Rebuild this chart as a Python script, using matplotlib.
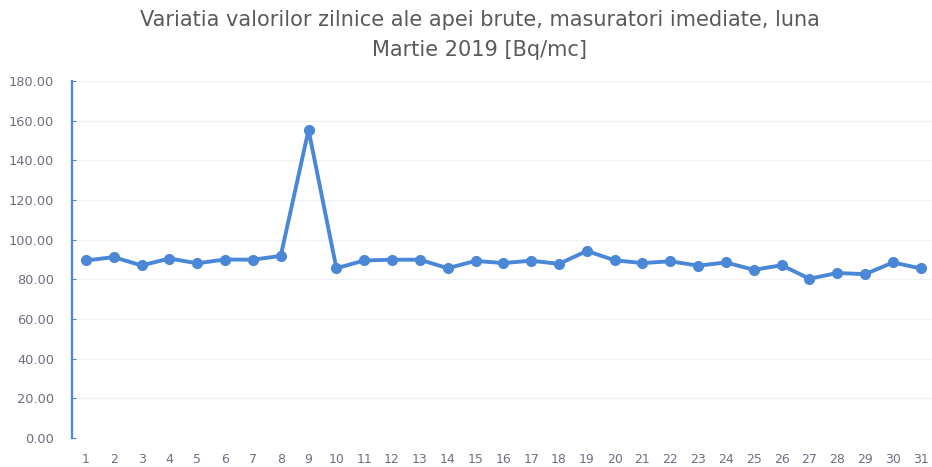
import matplotlib
matplotlib.use('Agg')
from matplotlib import pyplot as plt

# Daily values, March 2019 [Bq/mc]
days = list(range(1, 32))
values = [89.5, 91.2, 87.0, 90.5, 88.1, 90.0, 89.9, 91.8, 155.3, 85.6,
          89.5, 89.9, 89.9, 85.6, 89.3, 88.2, 89.4, 87.8, 94.3, 89.6,
          88.2, 89.1, 86.9, 88.5, 84.8, 87.1, 80.3, 83.2, 82.6, 88.5, 85.5]
y_ticks = [0, 20, 40, 60, 80, 100, 120, 140, 160, 180]

plt.rcParams['font.family'] = ['DejaVu Sans']

fig = plt.figure(figsize=(9.32, 4.67), dpi=100)
ax = fig.add_axes([72 / 932, 29 / 467, 862.7 / 932, 357 / 467])

ax.plot(days, values, color='#4a87d6', linewidth=2.8, marker='o',
        markersize=7, markerfacecolor='#4a87d6', markeredgecolor='#4a87d6')

ax.set_xlim(0.5, 31.5)
ax.set_ylim(0, 180)
ax.set_xticks(days)
ax.set_xticklabels([str(d) for d in days])
ax.set_yticks(y_ticks)
ax.set_yticklabels(['%.2f' % v for v in y_ticks])

ax.grid(axis='y', color='#f0f0f0', linewidth=0.8)
ax.set_axisbelow(True)
for side in ['top', 'right', 'bottom']:
    ax.spines[side].set_visible(False)
ax.spines['left'].set_color('#4a87d6')
ax.spines['left'].set_linewidth(1.6)

ax.tick_params(axis='y', direction='in', length=3, color='#4a87d6',
               labelcolor='#6e6e80', labelsize=9.3, pad=13)
ax.tick_params(axis='x', length=0, labelcolor='#6e6e80', labelsize=9, pad=11)

fig.text(0.515, 0.957, 'Variatia valorilor zilnice ale apei brute, masuratori imediate, luna',
         ha='center', va='center', fontsize=15, color='#5a5a5a')
fig.text(0.515, 0.893, 'Martie 2019 [Bq/mc]',
         ha='center', va='center', fontsize=15, color='#5a5a5a')

fig.savefig('out.png', dpi=100)
